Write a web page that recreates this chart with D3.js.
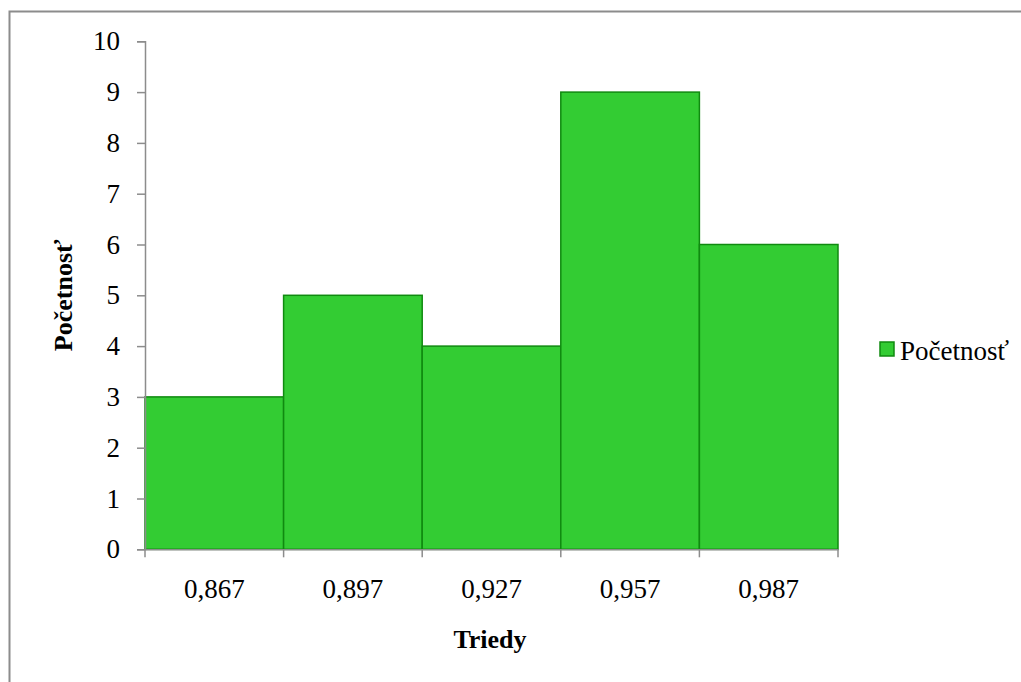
<!DOCTYPE html>
<head>
  <meta charset="utf-8">
  <script src="https://d3js.org/d3.v7.min.js"></script>
  <style>
    body { margin:0; background:#fff; }
    text { font-family: "Liberation Serif", "Times New Roman", serif; fill:#000; }
  </style>
</head>
<body>
<script>

/* Data */
/* ==== */

var classes = ["0,867", "0,897", "0,927", "0,957", "0,987"];
var counts = [3, 5, 4, 9, 6];
var yTicks = [0, 1, 2, 3, 4, 5, 6, 7, 8, 9, 10];
var seriesName = "Početnosť";


/* Set up */
/* ====== */

var width = 1021,
    height = 682,
    margin = { top: 41.3, right: 183, bottom: 132.7, left: 145 };

var svg = d3.select('body')
  .append('svg')
    .attr('width', width)
    .attr('height', height);

// outer frame (runs off the right and bottom edges)
svg.append('rect')
    .attr('x', 9.5)
    .attr('y', 11.5)
    .attr('width', width)
    .attr('height', height)
    .attr('fill', 'none')
    .attr('stroke', '#8c8c8c')
    .attr('stroke-width', 2);

var x = d3.scaleBand()
    .domain(classes)
    .range([margin.left, width - margin.right])
    .padding(0);

var y = d3.scaleLinear()
    .domain([0, 10])
    .range([height - margin.bottom, margin.top]);


// bars

svg.selectAll('.bar')
    .data(counts)
    .enter()
  .append('rect')
    .attr('class', 'bar')
    .attr('x', function(d, i) { return x(classes[i]); })
    .attr('y', function(d) { return y(d); })
    .attr('width', x.bandwidth())
    .attr('height', function(d) { return y(0) - y(d); })
    .attr('fill', '#33cc33')
    .attr('stroke', '#108a10')
    .attr('stroke-width', 1.5);


// axes

var yAxis = svg.append('g')
    .attr('transform', 'translate(' + margin.left + ',0)')
    .call(d3.axisLeft(y).tickValues(yTicks).tickSize(8).tickPadding(17));

var xAxis = svg.append('g')
    .attr('transform', 'translate(0,' + y(0) + ')')
    .call(d3.axisBottom(x).tickSize(0).tickPadding(30));

// x ticks sit on the band edges
var edges = classes.map(function(c) { return x(c); }).concat([x.range()[1]]);
xAxis.selectAll('.edge')
    .data(edges)
    .enter()
  .append('line')
    .attr('x1', function(d) { return d; })
    .attr('x2', function(d) { return d; })
    .attr('y1', 0)
    .attr('y2', 8)
    .attr('stroke', '#8c8c8c')
    .attr('stroke-width', 1.5);

[yAxis, xAxis].forEach(function(a) {
  a.select('.domain').attr('stroke', '#8c8c8c').attr('stroke-width', 1.5);
  a.selectAll('.tick line').attr('stroke', '#8c8c8c').attr('stroke-width', 1.5);
  a.selectAll('.tick text')
    .style('font-family', '"Liberation Serif", serif')
    .style('font-size', '27px')
    .attr('fill', '#000');
});


// axis titles

svg.append('text')
    .attr('transform', 'translate(72,' + (y(5)) + ') rotate(-90)')
    .attr('text-anchor', 'middle')
    .style('font-size', '26px')
    .style('font-weight', 'bold')
    .text(seriesName);

svg.append('text')
    .attr('x', 490)
    .attr('y', 648)
    .attr('text-anchor', 'middle')
    .style('font-size', '26px')
    .style('font-weight', 'bold')
    .text('Triedy');


// legend

var legend = svg.append('g')
    .attr('transform', 'translate(880,342)');

legend.append('rect')
    .attr('width', 14)
    .attr('height', 14)
    .attr('fill', '#33cc33')
    .attr('stroke', '#108a10')
    .attr('stroke-width', 1.5);

legend.append('text')
    .attr('x', 20)
    .attr('y', 18)
    .style('font-size', '27px')
    .text(seriesName);

</script>
</body>
